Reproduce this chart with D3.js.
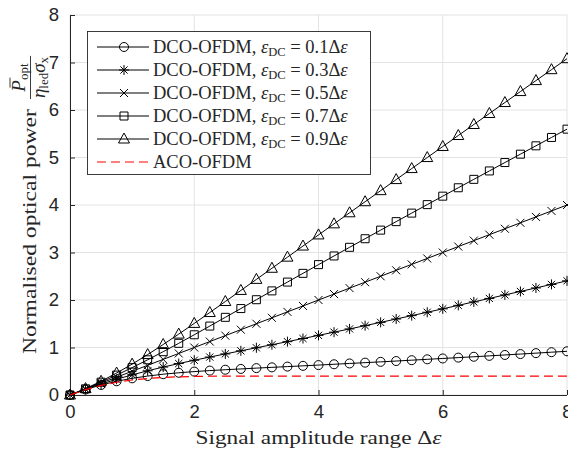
<!DOCTYPE html>
<style>
    body, html {
        margin: 0;
        padding: 0;
        background: #fff;
        overflow: hidden;
    }
    text { fill: #262626; }
</style>
<svg width="568" height="449"></svg>
<script src="https://d3js.org/d3.v7.min.js"></script>
<script>
    // signal amplitude range (x) and the normalised optical power of each scheme
    var dRange = [0, 0.25, 0.5, 0.75, 1, 1.25, 1.5, 1.75, 2, 2.25, 2.5, 2.75, 3, 3.25, 3.5, 3.75, 4,
        4.25, 4.5, 4.75, 5, 5.25, 5.5, 5.75, 6, 6.25, 6.5, 6.75, 7, 7.25, 7.5, 7.75, 8];
    var dco01 = [0, 0.115, 0.211, 0.289, 0.351, 0.399, 0.438, 0.468, 0.493, 0.514, 0.532, 0.549, 0.566,
        0.582, 0.598, 0.614, 0.630, 0.647, 0.664, 0.681, 0.698, 0.715, 0.733, 0.751, 0.769, 0.787,
        0.805, 0.824, 0.843, 0.862, 0.881, 0.901, 0.920];
    var dco03 = [0, 0.120, 0.230, 0.331, 0.424, 0.509, 0.588, 0.662, 0.732, 0.799, 0.865, 0.930, 0.994,
        1.058, 1.123, 1.189, 1.255, 1.323, 1.391, 1.460, 1.529, 1.600, 1.671, 1.742, 1.814, 1.887,
        1.960, 2.033, 2.107, 2.180, 2.254, 2.328, 2.403];
    var dco05 = [0, 0.125, 0.25, 0.375, 0.5, 0.625, 0.75, 0.875, 1, 1.125, 1.25, 1.375, 1.5, 1.625,
        1.75, 1.875, 2, 2.125, 2.25, 2.375, 2.5, 2.625, 2.75, 2.875, 3, 3.125, 3.25, 3.375, 3.5,
        3.625, 3.75, 3.875, 4];
    var dco07 = [0, 0.130, 0.270, 0.419, 0.576, 0.741, 0.912, 1.088, 1.268, 1.451, 1.635, 1.820, 2.006,
        2.192, 2.377, 2.561, 2.745, 2.927, 3.109, 3.290, 3.471, 3.650, 3.829, 4.008, 4.186, 4.363,
        4.540, 4.717, 4.894, 5.070, 5.246, 5.422, 5.597];
    var dco09 = [0, 0.135, 0.289, 0.462, 0.650, 0.851, 1.063, 1.282, 1.507, 1.736, 1.968, 2.201, 2.434,
        2.668, 2.902, 3.136, 3.370, 3.603, 3.836, 4.069, 4.302, 4.535, 4.767, 4.999, 5.231, 5.463,
        5.695, 5.926, 6.157, 6.388, 6.619, 6.849, 7.080];
    var aco = [0, 0.113, 0.201, 0.268, 0.316, 0.348, 0.370, 0.383, 0.391, 0.395, 0.397, 0.398, 0.399,
        0.399, 0.399, 0.399, 0.399, 0.399, 0.399, 0.399, 0.399, 0.399, 0.399, 0.399, 0.399, 0.399,
        0.399, 0.399, 0.399, 0.399, 0.399, 0.399, 0.399];

    var xTicks = [0, 2, 4, 6, 8];
    var yTicks = [0, 1, 2, 3, 4, 5, 6, 7, 8];
    var dcFactors = ["0.1", "0.3", "0.5", "0.7", "0.9"];
    var markerNames = ["circle", "asterisk", "cross", "square", "triangle"];

    var serif = "'Liberation Serif', 'Times New Roman', serif";
    var sans = "'Liberation Sans', Arial, sans-serif";

    var svg = d3.select("svg");
    var x = d3.scaleLinear().domain([0, 8]).range([70, 567]);
    var y = d3.scaleLinear().domain([0, 8]).range([395, 15]);

    // marker shapes, MATLAB style
    function markerPath(name) {
        if (name === "circle") return "M4.5,0A4.5,4.5 0 1,1 -4.5,0A4.5,4.5 0 1,1 4.5,0Z";
        if (name === "asterisk") return "M0,-5V5M-5,0H5M-3.6,-3.6L3.6,3.6M-3.6,3.6L3.6,-3.6";
        if (name === "cross") return "M-4,-4L4,4M-4,4L4,-4";
        if (name === "square") return "M-4,-4H4V4H-4Z";
        return "M0,-6L5.5,4H-5.5Z";
    }

    // grid
    var grid = svg.append("g").attr("stroke", "#e3e3e3").attr("stroke-width", 1);
    grid.selectAll(".gx").data(xTicks).enter().append("line")
        .attr("x1", function (d) { return x(d); }).attr("x2", function (d) { return x(d); })
        .attr("y1", y(0)).attr("y2", y(8));
    grid.selectAll(".gy").data(yTicks).enter().append("line")
        .attr("x1", x(0)).attr("x2", x(8))
        .attr("y1", function (d) { return y(d); }).attr("y2", function (d) { return y(d); });

    // axes
    var xAxis = svg.append("g").attr("transform", "translate(0," + y(0) + ")")
        .call(d3.axisBottom(x).tickValues(xTicks).tickSize(-5).tickPadding(10).tickFormat(d3.format("d")));
    var yAxis = svg.append("g").attr("transform", "translate(" + x(0) + ",0)")
        .call(d3.axisLeft(y).tickValues(yTicks).tickSize(-5).tickPadding(11).tickFormat(d3.format("d")));
    [xAxis, yAxis].forEach(function (a) {
        a.select(".domain").attr("stroke", "#262626");
        a.selectAll(".tick line").attr("stroke", "#262626");
        a.selectAll(".tick text").attr("font-family", sans).attr("font-size", 18.5).attr("fill", "#262626");
    });
    xAxis.select(".domain").attr("d", "M" + x(0) + ",0.5H" + x(8));
    yAxis.select(".domain").attr("d", "M0.5," + y(0) + "V" + y(8));
    yAxis.selectAll(".tick text").attr("x", -11);

    // series
    var series = [dco01, dco03, dco05, dco07, dco09];
    var line = d3.line()
        .x(function (d, i) { return x(dRange[i]); })
        .y(function (d) { return y(d); });
    var plot = svg.append("g");
    series.forEach(function (vals, s) {
        plot.append("path").datum(vals)
            .attr("fill", "none").attr("stroke", "#000").attr("stroke-width", 1)
            .attr("d", line);
        plot.append("g").selectAll("path").data(vals).enter().append("path")
            .attr("transform", function (d, i) { return "translate(" + x(dRange[i]) + "," + y(d) + ")"; })
            .attr("d", markerPath(markerNames[s]))
            .attr("fill", "none").attr("stroke", "#000").attr("stroke-width", 1);
    });
    plot.append("path").datum(aco)
        .attr("fill", "none").attr("stroke", "#ff0000").attr("stroke-width", 1.2)
        .attr("stroke-dasharray", "9,5")
        .attr("d", line);

    // legend
    var legend = svg.append("g");
    legend.append("rect")
        .attr("x", 87.5).attr("y", 31.5).attr("width", 283).attr("height", 143)
        .attr("fill", "#fff").attr("stroke", "#262626").attr("stroke-width", 0.9);
    var rows = dcFactors.concat(["aco"]);
    rows.forEach(function (r, i) {
        var ry = 47 + i * 23;
        var row = legend.append("g").attr("transform", "translate(0," + ry + ")");
        if (r === "aco") {
            row.append("line").attr("x1", 97).attr("x2", 149).attr("y1", 0).attr("y2", 0)
                .attr("stroke", "#ff0000").attr("stroke-width", 1.2).attr("stroke-dasharray", "9,5");
            row.append("text").attr("x", 153).attr("y", 6)
                .attr("font-family", serif).attr("font-size", 18.5).text("ACO-OFDM");
            return;
        }
        row.append("line").attr("x1", 97).attr("x2", 149).attr("y1", 0).attr("y2", 0)
            .attr("stroke", "#000").attr("stroke-width", 1);
        row.append("path").attr("transform", "translate(124,0)")
            .attr("d", markerPath(markerNames[i]))
            .attr("fill", "none").attr("stroke", "#000").attr("stroke-width", 1);
        var t = row.append("text").attr("x", 153).attr("y", 6)
            .attr("font-family", serif).attr("font-size", 18.5);
        t.append("tspan").text("DCO-OFDM, ");
        t.append("tspan").attr("font-style", "italic").text("ε");
        t.append("tspan").attr("font-size", 12.5).attr("dy", 3).text("DC");
        t.append("tspan").attr("dy", -3).text(" = " + r + "Δ");
        t.append("tspan").attr("font-style", "italic").text("ε");
    });

    // x label
    var xl = svg.append("text").attr("x", (x(0) + x(8)) / 2).attr("y", 444)
        .attr("text-anchor", "middle").attr("font-family", serif).attr("font-size", 19.5)
        .attr("textLength", 246).attr("lengthAdjust", "spacingAndGlyphs");
    xl.append("tspan").text("Signal amplitude range Δ");
    xl.append("tspan").attr("font-style", "italic").text("ε");

    // y label with fraction
    var yl = svg.append("g").attr("transform", "translate(36," + (y(0) + y(8)) / 2 + ") rotate(-90)");
    var wMain = 245;
    var ymain = yl.append("text").attr("font-family", serif).attr("font-size", 19.5)
        .attr("textLength", wMain).attr("lengthAdjust", "spacingAndGlyphs")
        .text("Normalised optical power");
    var num = yl.append("text").attr("font-family", serif).attr("font-size", 19).attr("y", -11);
    num.append("tspan").attr("font-style", "italic").text("P");
    num.append("tspan").attr("font-size", 13).attr("dy", 3).text("opt");
    var den = yl.append("text").attr("font-family", serif).attr("font-size", 19).attr("y", 9);
    den.append("tspan").attr("font-style", "italic").text("η");
    den.append("tspan").attr("font-size", 13).attr("dy", 3).text("led");
    den.append("tspan").attr("font-style", "italic").attr("dy", -3).text("σ");
    den.append("tspan").attr("font-size", 13).attr("dy", 3).text("x");
    var wNum = num.node().getComputedTextLength();
    var wDen = den.node().getComputedTextLength();
    var wFrac = Math.max(wNum, wDen) + 2;
    var gap = 10;
    var x0 = -(wMain + gap + wFrac) / 2;
    ymain.attr("x", x0);
    var fx = x0 + wMain + gap;
    num.attr("x", fx + (wFrac - wNum) / 2);
    den.attr("x", fx + (wFrac - wDen) / 2);
    yl.append("line").attr("x1", fx).attr("x2", fx + wFrac).attr("y1", -5.5).attr("y2", -5.5)
        .attr("stroke", "#262626").attr("stroke-width", 0.9);
    yl.append("line").attr("x1", fx + (wFrac - wNum) / 2 + 4).attr("x2", fx + (wFrac - wNum) / 2 + 14)
        .attr("y1", -26).attr("y2", -26).attr("stroke", "#262626").attr("stroke-width", 0.9);
</script>
